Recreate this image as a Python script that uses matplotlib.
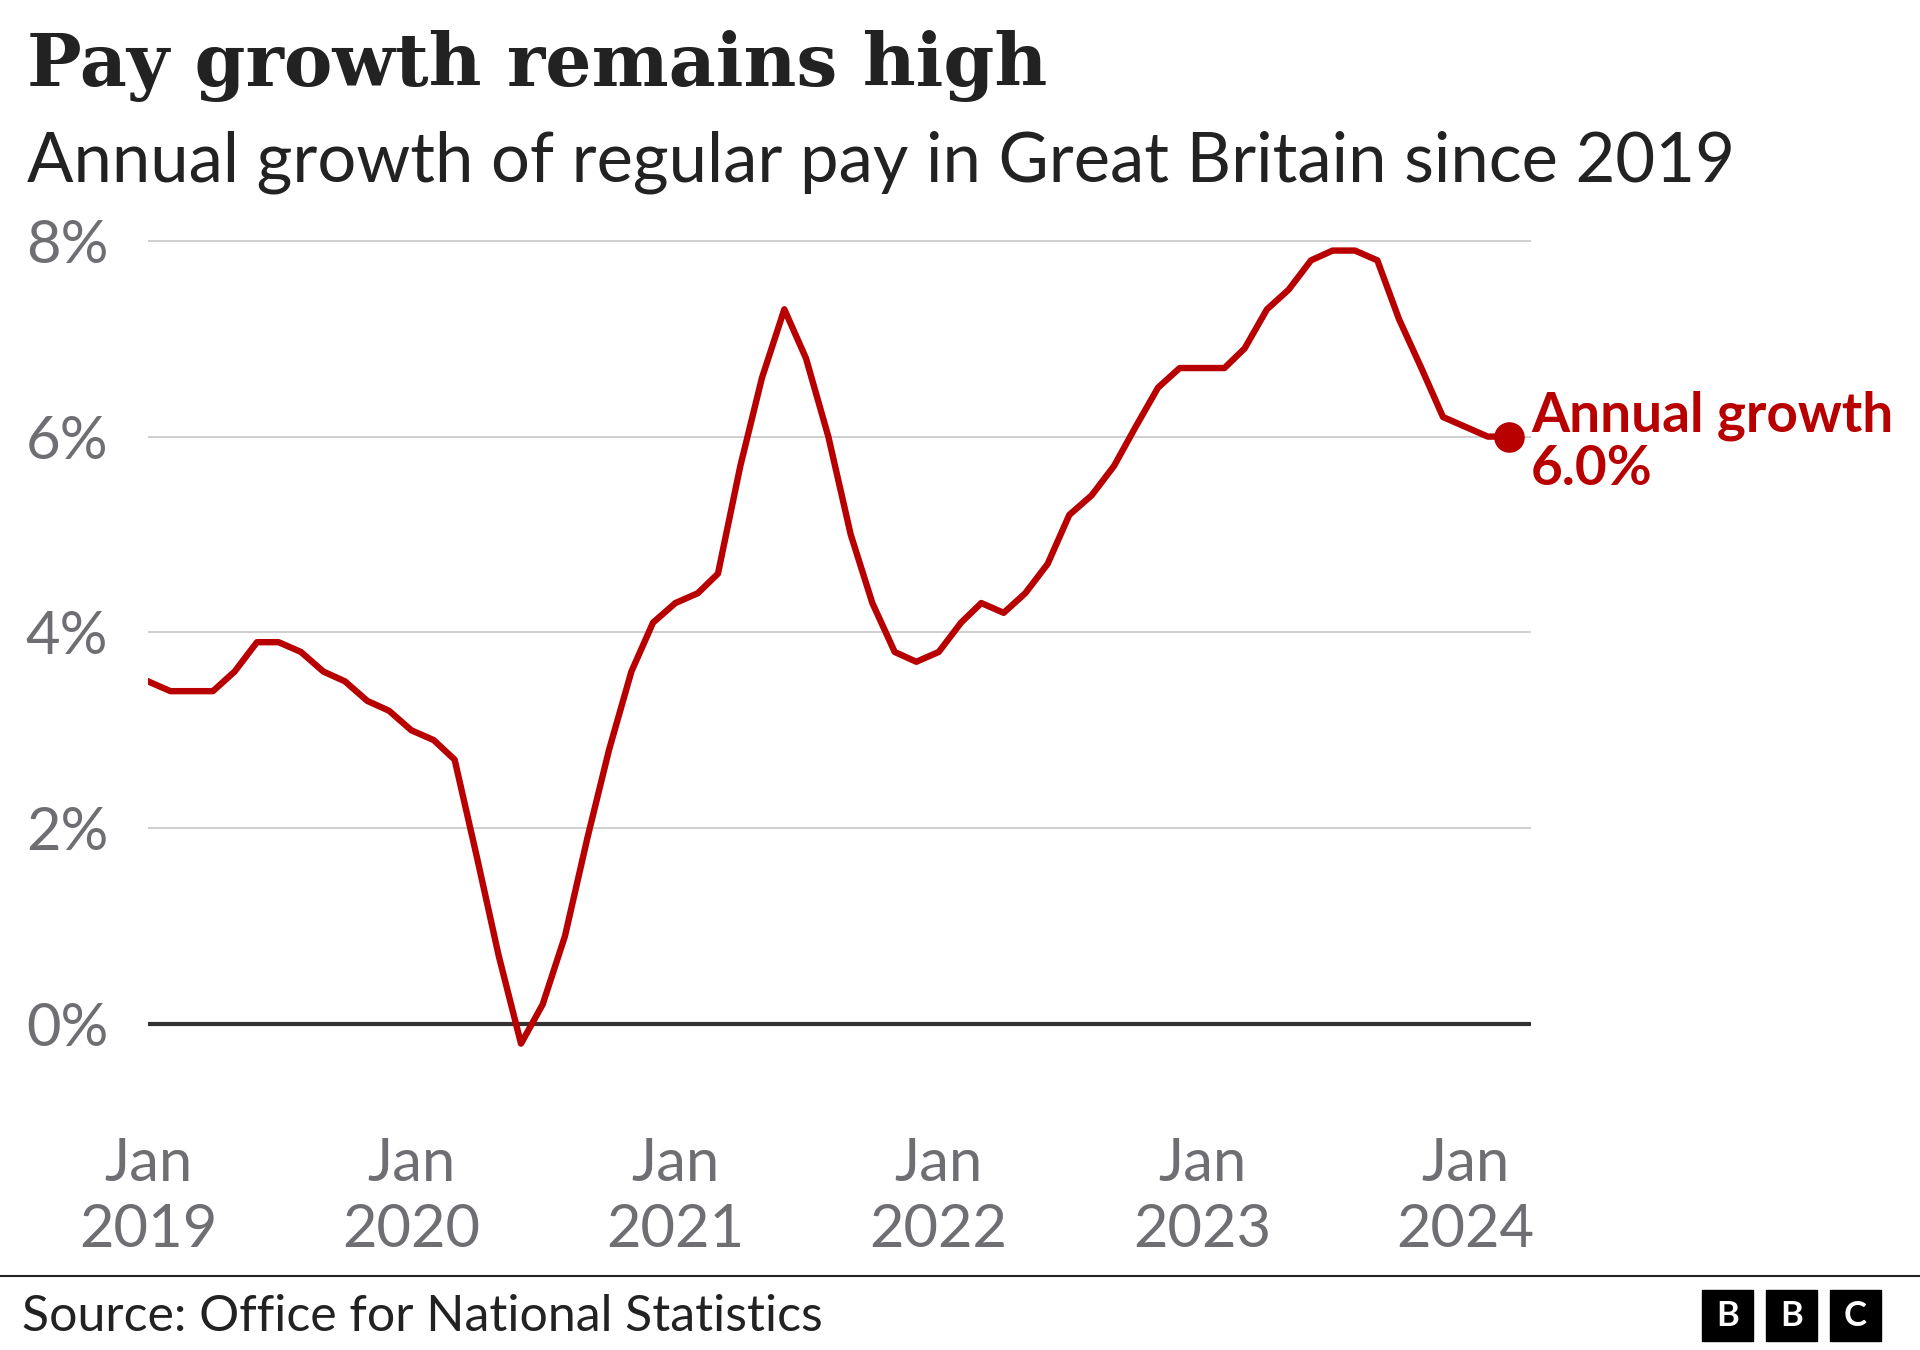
import matplotlib.pyplot as plt
import pandas as pd
from matplotlib.patches import Rectangle
from matplotlib.lines import Line2D

plt.rcParams['font.family'] = 'Lato'

# monthly, Jan 2019 - Mar 2024
months = pd.date_range('2019-01-01', periods=63, freq='MS')
pay_growth = [
    3.5, 3.4, 3.4, 3.4, 3.6, 3.9, 3.9, 3.8, 3.6, 3.5, 3.3, 3.2,  # 2019
    3.0, 2.9, 2.7, 1.7, 0.7, -0.2, 0.2, 0.9, 1.9, 2.8, 3.6, 4.1,  # 2020
    4.3, 4.4, 4.6, 5.7, 6.6, 7.3, 6.8, 6.0, 5.0, 4.3, 3.8, 3.7,  # 2021
    3.8, 4.1, 4.3, 4.2, 4.4, 4.7, 5.2, 5.4, 5.7, 6.1, 6.5, 6.7,  # 2022
    6.7, 6.7, 6.9, 7.3, 7.5, 7.8, 7.9, 7.9, 7.8, 7.2, 6.7, 6.2,  # 2023
    6.1, 6.0, 6.0,  # 2024
]
tick_years = [2019, 2020, 2021, 2022, 2023, 2024]
y_ticks = [0, 2, 4, 6, 8]
y_labels = [f'{v}%' for v in y_ticks]

RED = '#b80000'
GREY = '#6e6e73'
DARK = '#222222'

fig = plt.figure(figsize=(19.2, 13.5), dpi=100)
ax = fig.add_axes([0.0771, 0.2052, 0.7203, 0.6237])

ax.plot(months, pay_growth, color=RED, lw=4.6, zorder=3)
ax.plot(months[-1], pay_growth[-1], 'o', ms=21, color=RED, zorder=4)
ax.annotate(f'Annual growth\n{pay_growth[-1]:.1f}%',
            xy=(months[-1], pay_growth[-1]), xytext=(16, -4),
            textcoords='offset points', ha='left', va='center',
            fontsize=39.5, fontweight='bold', color=RED,
            linespacing=1.08, annotation_clip=False)

ax.set_ylim(-0.5, 8.1)
ax.set_xlim(pd.Timestamp('2019-01-01'), pd.Timestamp('2024-04-01'))

ax.set_yticks(y_ticks)
ax.set_yticklabels(y_labels)
for lab in ax.get_yticklabels():
    lab.set_horizontalalignment('left')

ax.set_xticks([pd.Timestamp(f'{y}-01-01') for y in tick_years])
ax.set_xticklabels([f'Jan\n{y}' for y in tick_years], linespacing=1.28)

ax.tick_params(length=0, labelsize=43, labelcolor=GREY)
ax.tick_params(axis='y', pad=88)
ax.tick_params(axis='x', pad=46)

ax.grid(axis='y', color='#cccccc', lw=1.3)
ax.axhline(0, color='#333333', lw=3, zorder=2)
ax.set_axisbelow(True)
for s in ax.spines.values():
    s.set_visible(False)

fig.text(27 / 1920, 1 - 86 / 1350, 'Pay growth remains high',
         family='DejaVu Serif', weight='bold', size=52.4, color=DARK, va='baseline')
fig.text(27 / 1920, 1 - 181 / 1350,
         'Annual growth of regular pay in Great Britain since 2019',
         size=49.5, color=DARK, va='baseline')

# footer
fig.add_artist(Line2D([0, 1], [0.0548, 0.0548], color=DARK, lw=1.5,
                      transform=fig.transFigure))
fig.text(22 / 1920, 1 - 1331 / 1350, 'Source: Office for National Statistics',
         size=36, color=DARK, va='baseline')
for i, letter in enumerate('BBC'):
    x0 = (1702 + i * 64) / 1920
    y0 = 1 - 1341 / 1350
    fig.add_artist(Rectangle((x0, y0), 51 / 1920, 51 / 1350,
                             transform=fig.transFigure, color='black'))
    fig.text(x0 + 25.5 / 1920, y0 + 25.5 / 1350, letter, color='white',
             weight='bold', size=25, ha='center', va='center')

fig.savefig('out.png', dpi=100)
